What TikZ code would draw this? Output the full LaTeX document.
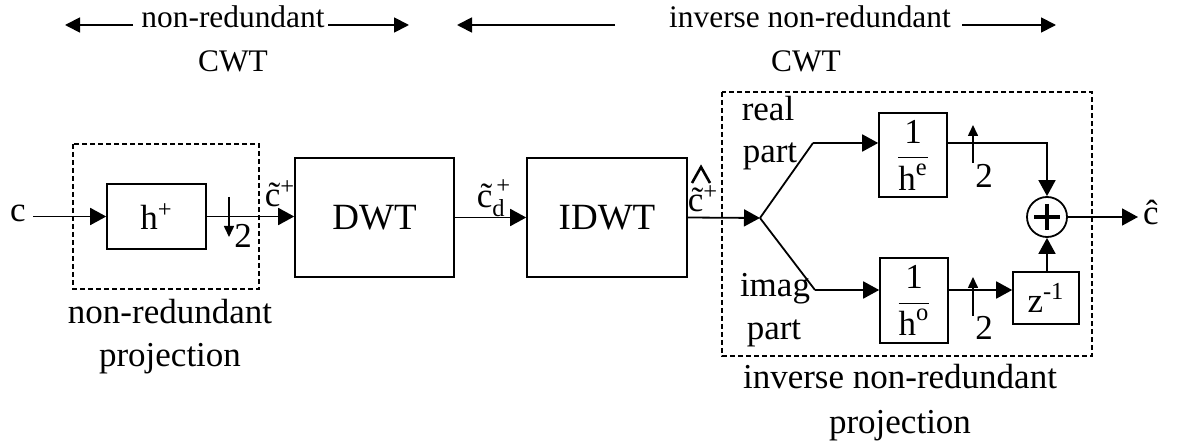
\documentclass[tikz,border=0pt]{standalone}
\usepackage{amsmath}
\usepackage{fontspec}
\setmainfont{Liberation Serif}
\usetikzlibrary{arrows.meta,calc}
\begin{document}
\begin{tikzpicture}[x=0.5pt,y=-0.5pt,
  font=\fontsize{17.5}{20}\selectfont,
  topf/.style={font=\fontsize{15.7}{18}\selectfont},
  blk/.style={draw,line width=0.8pt,inner sep=0pt},
  sig/.style={line width=0.9pt},
  arr/.style={sig,-{Triangle[length=8pt,width=8.5pt]}},
  tarr/.style={sig,-{Triangle[length=7.5pt,width=7.5pt]}},
  sarr/.style={line width=0.8pt,-{Triangle[length=5.5pt,width=5pt]}},
  dbox/.style={draw,dash pattern=on 2.4pt off 1.6pt,line width=0.75pt},
  lbl/.style={inner sep=0pt,anchor=base}]
\useasboundingbox (0,0) rectangle (1178,443);

% top spans
\node[lbl,topf] (t1) at (233,28) {non-redundant};
\node[lbl,topf] (t1b) at (233,72) {CWT};
\coordinate (a1s) at (133,25); \coordinate (a1e) at (65,25);
\coordinate (a2s) at (328,25); \coordinate (a2e) at (409,25);
\draw[tarr] (a1s) -- (a1e);
\draw[tarr] (a2s) -- (a2e);
\node[lbl,topf] (t2) at (810,28) {inverse non-redundant};
\node[lbl,topf] (t2b) at (806,72) {CWT};
\coordinate (a3s) at (615,25); \coordinate (a3e) at (457,25);
\coordinate (a4s) at (962,25); \coordinate (a4e) at (1056,25);
\draw[tarr] (a3s) -- (a3e);
\draw[tarr] (a4s) -- (a4e);

% dashed groups
\draw[dbox] (73,144) rectangle (259,289);
\draw[dbox] (722,92) rectangle (1092,356);

% blocks
\node[blk,minimum width=49.5pt,minimum height=32.5pt] (hp) at (156.5,216.5) {h\textsuperscript{+}};
\node[blk,minimum width=79.5pt,minimum height=59.5pt,font=\fontsize{18.5}{20}\selectfont] (dwt) at (374.5,217.5) {DWT};
\node[blk,minimum width=80pt,minimum height=59.5pt,font=\fontsize{18.5}{20}\selectfont] (idwt) at (607,217.5) {IDWT};
\node[blk,minimum width=34pt,minimum height=42pt] (he) at (913,155) {$\dfrac{\text{1}}{\text{h}^{\text{e}}}$};
\node[blk,minimum width=34pt,minimum height=42.5pt] (ho) at (914,300.5) {$\dfrac{\text{1}}{\text{h}^{\text{o}}}$};
\node[blk,minimum width=33pt,minimum height=26pt] (zi) at (1046,298) {z\textsuperscript{-1}};
\node[draw,circle,line width=0.9pt,minimum size=20pt,inner sep=0pt] (sum) at (1047,217) {};
\draw[line width=2pt] ($(sum.center)+(-13,0)$) -- ($(sum.center)+(13,0)$)
  ($(sum.center)+(0,-13)$) -- ($(sum.center)+(0,13)$);

% input
\node[lbl] (c) at (18,222) {c};
\draw[arr] ([xshift=3.5pt]c.east |- hp.west) -- (hp.west);
\draw[arr] (hp.east) -- (hp.east -| dwt.west);
\coordinate (d1s) at (229,197); \coordinate (d1e) at (229,237);
\draw[sarr] (d1s) -- (d1e);
\node[lbl] at (243,248) {2};
\node[lbl] at (280,207) {\~{c}\textsuperscript{+}};

\draw[arr] (dwt.east) -- (dwt.east -| idwt.west);
\node[lbl] at (494,208) {$\text{\~{c}}_{\text{d}}^{\,\text{+}}$};

\coordinate (j) at (760,218);
\draw[arr] (idwt.east) -- (j);
\node[lbl] at (703,212) {\~{c}\textsuperscript{+}};
\draw[line width=1.3pt] (692,183) -- (701,167) -- (710,183);

% branches
\coordinate (ru) at (813,143);
\coordinate (rl) at (815,290);
\draw[sig] (j) -- (ru);
\draw[arr] (ru) -- (ru -| he.west);
\draw[sig] (j) -- (rl);
\draw[arr] (rl) -- (rl -| ho.west);

\draw[arr] (ru -| he.east) -- (ru -| sum.north) -- (sum.north);
\coordinate (u1s) at (973,163); \coordinate (u1e) at (973,125);
\draw[sarr] (u1s) -- (u1e);
\node[lbl] at (984,188) {2};

\draw[arr] (rl -| ho.east) -- (rl -| zi.west);
\coordinate (u2s) at (973,316); \coordinate (u2e) at (973,277);
\draw[sarr] (u2s) -- (u2e);
\node[lbl] at (984,340) {2};
\draw[arr] (sum.south |- zi.north) -- (sum.south);

\coordinate (out) at (1138,217);
\draw[arr] (sum.east) -- (out);
\node[lbl] (chat) at (1151,225) {\^{c}};

% labels
\node[lbl] at (768,121) {real};
\node[lbl] at (770,163) {part};
\node[lbl] at (775,297) {imag};
\node[lbl] at (774,340) {part};
\node[lbl] at (900,388) {inverse non-redundant};
\node[lbl] at (900,433) {projection};
\node[lbl] at (170,323) {non-redundant};
\node[lbl] at (170,366) {projection};
\end{tikzpicture}
\end{document}
